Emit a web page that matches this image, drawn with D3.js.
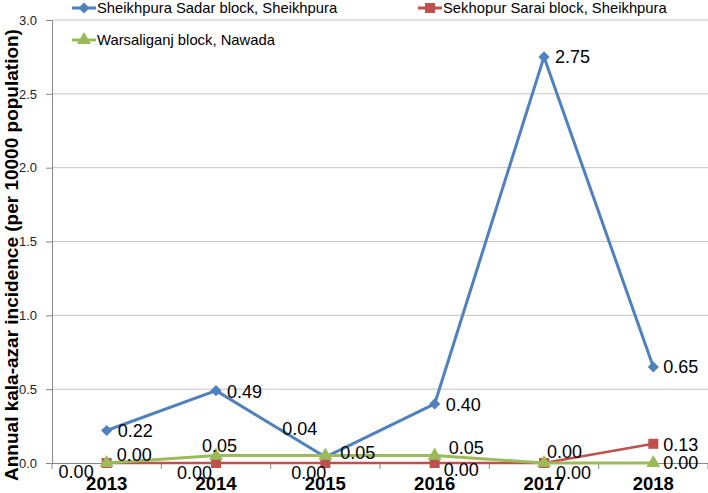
<!DOCTYPE html>
<html>
<head>
<meta charset="utf-8">
<script src="https://cdn.jsdelivr.net/npm/d3@7"></script>
<style>
  body { margin: 0; background: #fff; }
  svg { display: block; font-family: Arial, "Liberation Sans", sans-serif; }
</style>
</head>
<body>
<svg id="chart" width="708" height="493"></svg>
<script>
// chart values
const years = ["2013", "2014", "2015", "2016", "2017", "2018"];
const sadar = [0.22, 0.49, 0.04, 0.40, 2.75, 0.65];
const sarai = [0.00, 0.00, 0.00, 0.00, 0.00, 0.13];
const warsaliganj = [0.00, 0.05, 0.05, 0.05, 0.00, 0.00];
const yTicks = [0, 0.5, 1.0, 1.5, 2.0, 2.5, 3.0];
const seriesNames = ["Sheikhpura Sadar block, Sheikhpura", "Sekhopur Sarai block, Sheikhpura", "Warsaliganj block, Nawada"];

// where each data label sits relative to its point [dx, dy, anchor]
const sadarLabelPos = [[11, 0, "start"], [11, 1, "start"], [-8, -29, "end"], [11, 1, "start"], [11, 0, "start"], [10, 0, "start"]];
const saraiLabelPos = [[-13, 9, "end"], [-4, 10, "end"], [1, 10, "end"], [9, 7, "start"], [12, 10, "start"], [10, 1, "start"]];
const warsLabelPos = [[10, -8, "start"], [-14, -10, "start"], [15, -3, "start"], [14, -8, "start"], [3, -11, "start"], [10, 0, "start"]];

const svg = d3.select("#chart");
const plotLeft = 52, plotRight = 708, plotTop = 20, plotBottom = 463;

const x = d3.scaleBand().domain(years).range([plotLeft, plotRight]);
const cx = d => x(d) + x.bandwidth() / 2;
const y = d3.scaleLinear().domain([0, 3]).range([plotBottom, plotTop]);

// gridlines
svg.append("g")
    .selectAll("line")
    .data(yTicks.filter(t => t > 0))
    .join("line")
    .attr("x1", plotLeft).attr("x2", plotRight)
    .attr("y1", d => y(d)).attr("y2", d => y(d))
    .attr("stroke", "#c4c4c4").attr("stroke-width", 1);

// y axis
const yAxis = svg.append("g")
    .attr("transform", `translate(${plotLeft},0)`)
    .call(d3.axisLeft(y).tickValues(yTicks).tickFormat(d3.format(".1f")).tickSizeOuter(0).tickSize(6).tickPadding(9));
yAxis.select(".domain").attr("stroke", "#888");
yAxis.selectAll(".tick line").attr("stroke", "#888");
yAxis.selectAll("text").attr("font-size", 13).attr("fill", "#222")
    .attr("font-family", "Arial, 'Liberation Sans', sans-serif");

// x axis
const xAxis = svg.append("g")
    .attr("transform", `translate(0,${plotBottom})`)
    .call(d3.axisBottom(x).tickSize(0).tickPadding(14));
xAxis.select(".domain").attr("stroke", "#888");
xAxis.selectAll("text").attr("font-size", 18.5).attr("font-weight", "bold").attr("fill", "#000")
    .attr("font-family", "Arial, 'Liberation Sans', sans-serif");
// boundary ticks between categories
svg.append("g")
    .selectAll("line")
    .data(years.concat(["end"]))
    .join("line")
    .attr("x1", (d, i) => i < years.length ? x(d) : plotRight)
    .attr("x2", (d, i) => i < years.length ? x(d) : plotRight)
    .attr("y1", plotBottom).attr("y2", plotBottom + 6)
    .attr("stroke", "#888");

// y title
svg.append("text")
    .attr("transform", "rotate(-90)")
    .attr("x", -255).attr("y", 18)
    .attr("text-anchor", "middle")
    .attr("font-size", 19).attr("font-weight", "bold")
    .text("Annual kala-azar incidence (per 10000 population)");

const diamond = d3.symbol().type(d3.symbolDiamond2).size(80);
const square = d3.symbol().type(d3.symbolSquare).size(100);
const triangle = d3.symbol().type(d3.symbolTriangle).size(85);

const series = [
    { values: sadar, color: "#4f81bd", symbol: diamond, labels: sadarLabelPos, width: 3 },
    { values: sarai, color: "#c0504d", symbol: square, labels: saraiLabelPos, width: 2.5 },
    { values: warsaliganj, color: "#9bbb59", symbol: triangle, labels: warsLabelPos, width: 3 }
];

const line = d3.line().x((d, i) => cx(years[i])).y(d => y(d));

series.forEach(s => {
    const g = svg.append("g");
    g.append("path")
        .attr("d", line(s.values))
        .attr("fill", "none")
        .attr("stroke", s.color)
        .attr("stroke-width", s.width)
        .attr("stroke-linejoin", "round");
    g.selectAll("path.mark")
        .data(s.values)
        .join("path")
        .attr("class", "mark")
        .attr("d", s.symbol)
        .attr("transform", (d, i) => `translate(${cx(years[i])},${y(d)})`)
        .attr("fill", s.color);
});

// data labels on top
series.forEach(s => {
    svg.append("g")
        .selectAll("text")
        .data(s.values)
        .join("text")
        .attr("x", (d, i) => cx(years[i]) + s.labels[i][0])
        .attr("y", (d, i) => y(d) + s.labels[i][1])
        .attr("dy", "0.36em")
        .attr("text-anchor", (d, i) => s.labels[i][2])
        .attr("font-size", 18)
        .attr("fill", "#000")
        .text(d => d3.format(".2f")(d));
});

// legend
const legendPos = [[72, 8], [418, 8], [72, 40]];
series.forEach((s, i) => {
    const [lx, ly] = legendPos[i];
    const g = svg.append("g");
    g.append("line")
        .attr("x1", lx).attr("x2", lx + 24)
        .attr("y1", ly).attr("y2", ly)
        .attr("stroke", s.color).attr("stroke-width", 3);
    g.append("path")
        .attr("d", s.symbol)
        .attr("transform", `translate(${lx + 12},${ly})`)
        .attr("fill", s.color);
    g.append("text")
        .attr("x", lx + 25).attr("y", ly)
        .attr("dy", "0.35em")
        .attr("font-size", 14.8)
        .attr("fill", "#000")
        .text(seriesNames[i]);
});
</script>
</body>
</html>
